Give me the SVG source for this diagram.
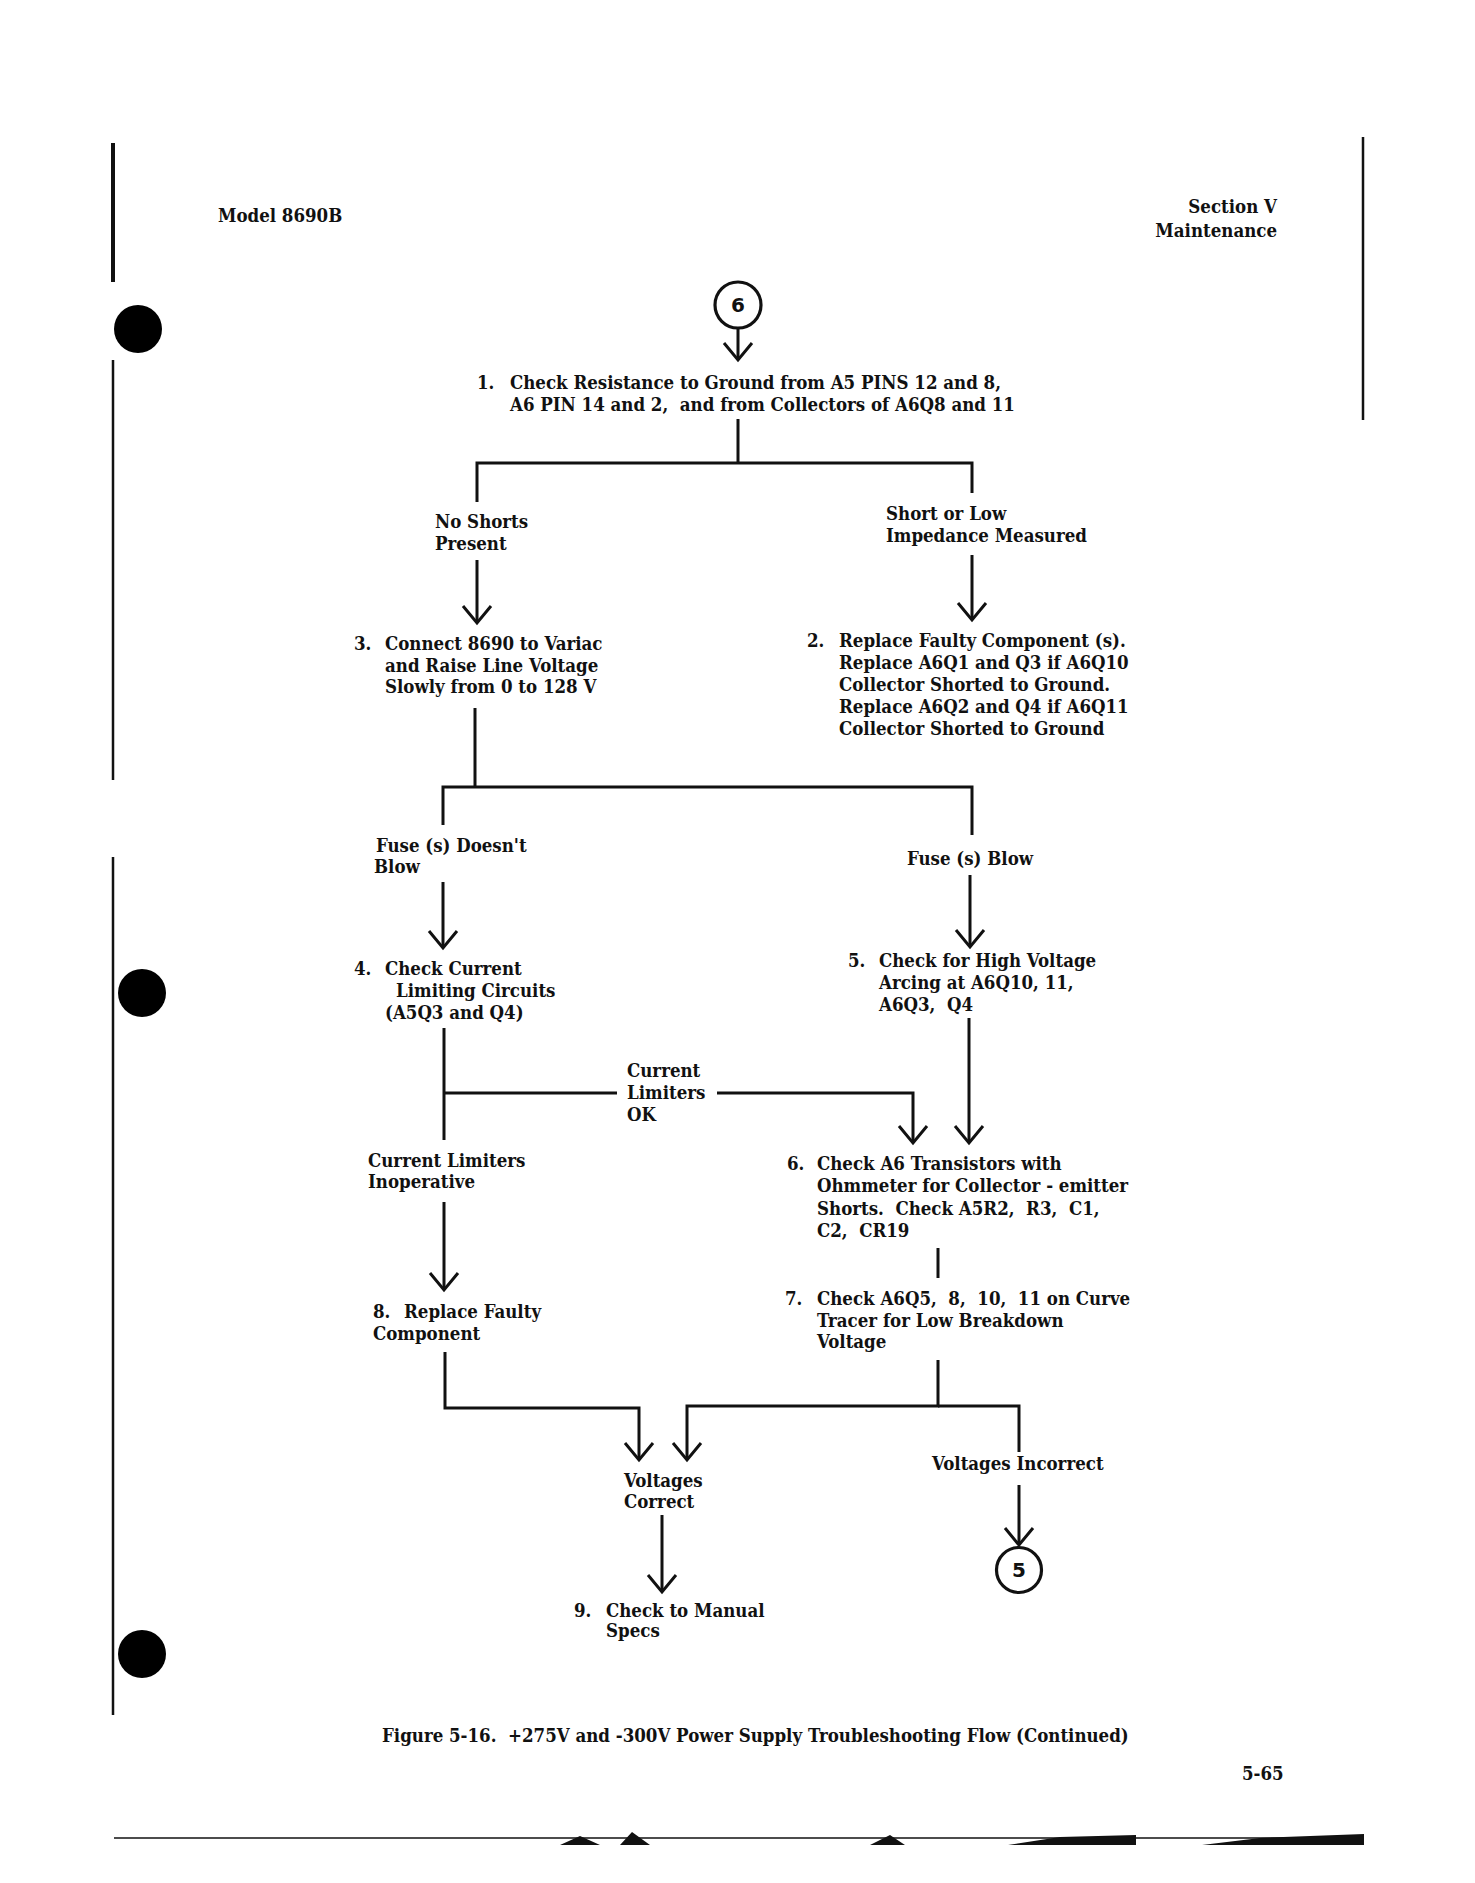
<svg xmlns="http://www.w3.org/2000/svg" width="1475" height="1883" viewBox="0 0 1475 1883">
<style>
.t{font-family:"DejaVu Serif Condensed","DejaVu Serif",serif;font-weight:bold;font-size:18.5px;fill:#111;white-space:pre}
.hd{font-family:"DejaVu Serif Condensed","DejaVu Serif",serif;font-weight:bold;font-size:18.5px;fill:#111}
.num{font-family:"DejaVu Sans","Liberation Sans",sans-serif;font-weight:bold;font-size:20px;fill:#111;text-anchor:middle}
.w{fill:none;stroke:#111;stroke-width:3;stroke-linecap:butt;stroke-linejoin:miter}
.a{fill:none;stroke:#111;stroke-width:3;marker-end:url(#v)}
.c{fill:#fff;stroke:#111;stroke-width:3.2}
.hole{fill:#000}
.edge{stroke:#111;fill:none}
</style>
<defs>
<marker id="v" markerUnits="userSpaceOnUse" viewBox="-20 -20 24 40" markerWidth="24" markerHeight="40" refX="0" refY="0" orient="auto">
<path d="M-17,-14 L0,0 L-17,14" fill="none" stroke="#111" stroke-width="3"/>
</marker>
</defs>
<rect width="1475" height="1883" fill="#fff"/>

<g id="page">
<path class="edge" stroke-width="4" d="M113,143 V282"/>
<path class="edge" stroke-width="2.5" d="M113,360 V780 M113,857 V1715"/>
<path class="edge" stroke-width="2.5" d="M1363,137 V420"/>
<circle class="hole" cx="138" cy="329" r="24"/>
<circle class="hole" cx="142" cy="993" r="24"/>
<circle class="hole" cx="142" cy="1654" r="24"/>
<path class="edge" stroke-width="1.5" stroke="#555" d="M114,1838 H1364"/>
<path fill="#111" d="M560,1845 L580,1836 L600,1845 Z M620,1845 L632,1832 L650,1845 Z M870,1845 L890,1835 L905,1845 Z M1008,1845 L1060,1837 L1136,1835 L1136,1845 Z M1202,1845 L1260,1838 L1364,1834 L1364,1845 Z"/>
<text class="hd" x="218" y="222">Model 8690B</text>
<text class="hd" x="1277" y="213" text-anchor="end">Section V</text>
<text class="hd" x="1277" y="237" text-anchor="end">Maintenance</text>
</g>

<g id="connectors">
<line class="a" x1="738" y1="328" x2="738" y2="360"/>
<polyline class="w" points="738,419 738,463"/>
<polyline class="w" points="477,502 477,463 972,463 972,493"/>
<line class="a" x1="477" y1="560" x2="477" y2="623"/>
<line class="a" x1="972" y1="555" x2="972" y2="620"/>
<polyline class="w" points="475,708 475,787"/>
<polyline class="w" points="443,825 443,787 972,787 972,835"/>
<line class="a" x1="443" y1="882" x2="443" y2="948"/>
<line class="a" x1="970" y1="875" x2="970" y2="947"/>
<polyline class="w" points="444,1028 444,1140"/>
<polyline class="w" points="444,1093 617,1093"/>
<polyline class="a" points="717,1093 913,1093 913,1143"/>
<line class="a" x1="969" y1="1018" x2="969" y2="1143"/>
<line class="a" x1="444" y1="1202" x2="444" y2="1290"/>
<polyline class="w" points="938,1248 938,1278"/>
<polyline class="a" points="445,1352 445,1408 639,1408 639,1460"/>
<polyline class="a" points="938,1360 938,1406 687,1406 687,1460"/>
<polyline class="w" points="938,1406 1019,1406 1019,1452"/>
<line class="a" x1="1019" y1="1485" x2="1019" y2="1545"/>
<line class="a" x1="662" y1="1515" x2="662" y2="1592"/>
</g>

<g id="conn6">
<circle class="c" cx="738" cy="305" r="23"/>
<text class="num" x="738" y="312">6</text>
</g>

<g id="step1">
<text class="t" x="477" y="389">1.</text>
<text class="t" x="510" y="389">Check Resistance to Ground from A5 PINS 12 and 8,</text>
<text class="t" x="510" y="411">A6 PIN 14 and 2,  and from Collectors of A6Q8 and 11</text>
</g>

<g id="lbl-noshorts">
<text class="t" x="435" y="528">No Shorts</text>
<text class="t" x="435" y="550">Present</text>
</g>

<g id="lbl-short">
<text class="t" x="886" y="520">Short or Low</text>
<text class="t" x="886" y="542">Impedance Measured</text>
</g>

<g id="step3">
<text class="t" x="354" y="650">3.</text>
<text class="t" x="385" y="650">Connect 8690 to Variac</text>
<text class="t" x="385" y="672">and Raise Line Voltage</text>
<text class="t" x="385" y="693">Slowly from 0 to 128 V</text>
</g>

<g id="step2">
<text class="t" x="807" y="647">2.</text>
<text class="t" x="839" y="647">Replace Faulty Component (s).</text>
<text class="t" x="839" y="669">Replace A6Q1 and Q3 if A6Q10</text>
<text class="t" x="839" y="691">Collector Shorted to Ground.</text>
<text class="t" x="839" y="713">Replace A6Q2 and Q4 if A6Q11</text>
<text class="t" x="839" y="735">Collector Shorted to Ground</text>
</g>

<g id="lbl-nofuse">
<text class="t" x="376" y="852">Fuse (s) Doesn't</text>
<text class="t" x="374" y="873">Blow</text>
</g>

<g id="lbl-fuse">
<text class="t" x="907" y="865">Fuse (s) Blow</text>
</g>

<g id="step4">
<text class="t" x="354" y="975">4.</text>
<text class="t" x="385" y="975">Check Current</text>
<text class="t" x="396" y="997">Limiting Circuits</text>
<text class="t" x="385" y="1019">(A5Q3 and Q4)</text>
</g>

<g id="step5">
<text class="t" x="848" y="967">5.</text>
<text class="t" x="879" y="967">Check for High Voltage</text>
<text class="t" x="879" y="989">Arcing at A6Q10, 11,</text>
<text class="t" x="879" y="1011">A6Q3,  Q4</text>
</g>

<g id="lbl-limok">
<text class="t" x="627" y="1077">Current</text>
<text class="t" x="627" y="1099">Limiters</text>
<text class="t" x="627" y="1121">OK</text>
</g>

<g id="lbl-liminop">
<text class="t" x="368" y="1167">Current Limiters</text>
<text class="t" x="368" y="1188">Inoperative</text>
</g>

<g id="step6">
<text class="t" x="787" y="1170">6.</text>
<text class="t" x="817" y="1170">Check A6 Transistors with</text>
<text class="t" x="817" y="1192">Ohmmeter for Collector - emitter</text>
<text class="t" x="817" y="1215">Shorts.  Check A5R2,  R3,  C1,</text>
<text class="t" x="817" y="1237">C2,  CR19</text>
</g>

<g id="step8">
<text class="t" x="373" y="1318">8.</text>
<text class="t" x="404" y="1318">Replace Faulty</text>
<text class="t" x="373" y="1340">Component</text>
</g>

<g id="step7">
<text class="t" x="785" y="1305">7.</text>
<text class="t" x="817" y="1305">Check A6Q5,  8,  10,  11 on Curve</text>
<text class="t" x="817" y="1327">Tracer for Low Breakdown</text>
<text class="t" x="817" y="1348">Voltage</text>
</g>

<g id="lbl-vcorrect">
<text class="t" x="624" y="1487">Voltages</text>
<text class="t" x="624" y="1508">Correct</text>
</g>

<g id="lbl-vincorrect">
<text class="t" x="932" y="1470">Voltages Incorrect</text>
</g>

<g id="conn5">
<circle class="c" cx="1019" cy="1570" r="22.5"/>
<text class="num" x="1019" y="1577">5</text>
</g>

<g id="step9">
<text class="t" x="574" y="1617">9.</text>
<text class="t" x="606" y="1617">Check to Manual</text>
<text class="t" x="606" y="1637">Specs</text>
</g>

<g id="caption">
<text class="t" x="382" y="1742">Figure 5-16.  +275V and -300V Power Supply Troubleshooting Flow (Continued)</text>
<text class="t" x="1242" y="1780">5-65</text>
</g>
</svg>
